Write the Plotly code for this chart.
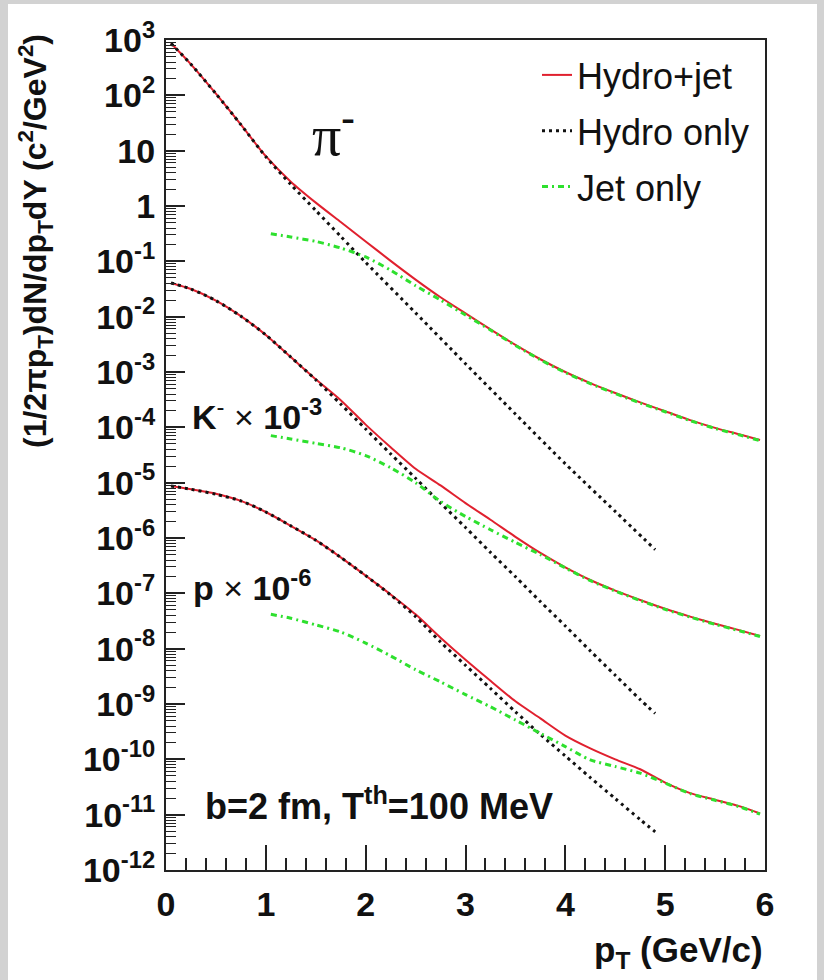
import plotly.graph_objects as go

# ---------------- data ----------------
pt_full = [0.05, 0.25, 0.5, 0.75, 1.0, 1.25, 1.5, 1.75, 2.0, 2.25, 2.5, 2.75, 3.0,
           3.25, 3.5, 3.75, 4.0, 4.25, 4.5, 4.75, 5.0, 5.25, 5.5, 5.75, 5.95]
pt_hydro_pi = [0.05, 0.25, 0.5, 0.75, 1.0, 1.25, 1.5, 1.75, 2.0, 2.5, 3.0, 3.5, 4.0, 4.5, 4.9]
pt_hydro = [0.05, 0.25, 0.5, 0.75, 1.0, 1.25, 1.5, 1.75, 2.0, 2.25, 2.5, 2.75, 3.0,
            3.25, 3.5, 3.75, 4.0, 4.25, 4.5, 4.75, 4.9]
pt_jet = [1.05, 1.25, 1.5, 1.75, 2.0, 2.25, 2.5, 2.75, 3.0, 3.25, 3.5, 3.75, 4.0,
          4.25, 4.5, 4.75, 5.0, 5.25, 5.5, 5.75, 5.95]

pi_total = [871, 363, 107, 29.5, 7.94, 2.75, 1.15, 0.513, 0.229, 0.102, 0.0468, 0.0224,
            0.0115, 5.89e-3, 3.09e-3, 1.70e-3, 1.00e-3, 6.31e-4, 4.17e-4, 2.82e-4,
            1.95e-4, 1.35e-4, 9.77e-5, 7.41e-5, 5.89e-5]
pi_hydro = [871, 363, 107, 29.5, 7.76, 2.45, 0.832, 0.282, 0.0955, 0.0117, 1.41e-3,
            1.74e-4, 2.19e-5, 3.02e-6, 6.17e-7]
pi_jet = [0.316, 0.275, 0.229, 0.174, 0.120, 0.0692, 0.0363, 0.0200, 0.0107, 5.75e-3,
          3.02e-3, 1.66e-3, 9.77e-4, 6.17e-4, 4.07e-4, 2.75e-4, 1.91e-4, 1.32e-4,
          9.55e-5, 7.24e-5, 5.75e-5]

k_total = [0.0407, 0.0316, 0.0195, 0.0102, 4.68e-3, 1.86e-3, 7.41e-4, 3.09e-4, 1.12e-4,
           4.37e-5, 1.78e-5, 8.91e-6, 4.27e-6, 2.14e-6, 1.05e-6, 5.37e-7, 2.95e-7,
           1.74e-7, 1.12e-7, 7.59e-8, 5.25e-8, 3.80e-8, 2.82e-8, 2.14e-8, 1.70e-8]
k_hydro = [0.0407, 0.0316, 0.0195, 0.0102, 4.68e-3, 1.86e-3, 7.24e-4, 2.63e-4, 9.33e-5,
           3.31e-5, 1.20e-5, 4.27e-6, 1.55e-6, 5.50e-7, 2.00e-7, 7.08e-8, 2.57e-8,
           9.12e-9, 3.31e-9, 1.20e-9, 6.76e-10]
k_jet = [7.08e-5, 6.17e-5, 5.13e-5, 4.27e-5, 3.09e-5, 1.86e-5, 1.00e-5, 4.57e-6, 2.45e-6,
         1.41e-6, 8.32e-7, 5.01e-7, 2.88e-7, 1.70e-7, 1.10e-7, 7.41e-8, 5.13e-8, 3.72e-8,
         2.75e-8, 2.09e-8, 1.66e-8]

p_total = [8.71e-6, 7.59e-6, 6.31e-6, 4.68e-6, 2.95e-6, 1.66e-6, 9.12e-7, 4.47e-7,
           2.09e-7, 9.55e-8, 4.17e-8, 1.58e-8, 6.31e-9, 2.63e-9, 1.12e-9, 5.50e-10,
           2.69e-10, 1.58e-10, 1.00e-10, 6.61e-11, 3.80e-11, 2.45e-11, 1.86e-11,
           1.41e-11, 1.05e-11]
p_hydro = [8.71e-6, 7.59e-6, 6.17e-6, 4.68e-6, 2.95e-6, 1.66e-6, 9.12e-7, 4.47e-7,
           2.09e-7, 9.33e-8, 3.80e-8, 1.32e-8, 5.01e-9, 1.91e-9, 7.24e-10, 2.82e-10,
           1.15e-10, 4.68e-11, 1.95e-11, 8.13e-12, 4.90e-12]
p_jet = [4.17e-8, 3.55e-8, 2.69e-8, 2.00e-8, 1.26e-8, 7.41e-9, 4.17e-9, 2.51e-9, 1.48e-9,
         8.91e-10, 5.13e-10, 2.95e-10, 1.70e-10, 9.77e-11, 7.41e-11, 5.62e-11, 3.72e-11,
         2.40e-11, 1.82e-11, 1.38e-11, 1.02e-11]

x_ticks = [0, 1, 2, 3, 4, 5, 6]
y_tick_vals = [1e3, 1e2, 1e1, 1, 1e-1, 1e-2, 1e-3, 1e-4, 1e-5, 1e-6, 1e-7, 1e-8,
               1e-9, 1e-10, 1e-11, 1e-12]
y_tick_text = ["10<sup>3</sup>", "10<sup>2</sup>", "10", "1", "10<sup>-1</sup>",
               "10<sup>-2</sup>", "10<sup>-3</sup>", "10<sup>-4</sup>", "10<sup>-5</sup>",
               "10<sup>-6</sup>", "10<sup>-7</sup>", "10<sup>-8</sup>", "10<sup>-9</sup>",
               "10<sup>-10</sup>", "10<sup>-11</sup>", "10<sup>-12</sup>"]

# ---------------- styles ----------------
RED = "#e0202e"
BLACK = "#111111"
GREEN = "#2ee02e"
FONT = "Liberation Sans, Arial, sans-serif"

red_line = dict(color=RED, width=2, shape="spline", smoothing=0.7)
black_line = dict(color=BLACK, width=3, dash="3px,4px", shape="spline", smoothing=0.7)
green_line = dict(color=GREEN, width=3, dash="6px,4px,2px,4px", shape="spline", smoothing=0.7)

fig = go.Figure()

series = [
    ("Hydro+jet", pt_full, [pi_total, k_total, p_total], red_line, 1),
    ("Hydro only", None, [pi_hydro, k_hydro, p_hydro], black_line, 2),
    ("Jet only", pt_jet, [pi_jet, k_jet, p_jet], green_line, 3),
]
for name, xs, ys_list, line, rank in series:
    for i, ys in enumerate(ys_list):
        if name == "Hydro only":
            x = pt_hydro_pi if i == 0 else pt_hydro
        else:
            x = xs
        fig.add_trace(go.Scatter(
            x=x, y=ys, mode="lines", line=line, name=name,
            showlegend=(i == 0), legendgroup=name, legendrank=rank,
            hoverinfo="skip"))

L, R, T, B = 166, 59, 40, 110
W, H = 824, 980
PW, PH = W - L - R, H - T - B


def px(xp):
    return (xp - L) / PW


def py(yp):
    return (H - B - yp) / PH


fig.update_layout(
    width=W, height=H, autosize=False,
    margin=dict(l=L, r=R, t=T, b=B),
    paper_bgcolor="#d2d2d2",
    plot_bgcolor="white",
    font=dict(family=FONT, color="#111111"),
    legend=dict(
        x=px(537), y=py(45), xanchor="left", yanchor="top",
        bgcolor="rgba(0,0,0,0)", borderwidth=0,
        font=dict(size=36, family=FONT, color="#111111"),
        tracegroupgap=6,
    ),
    shapes=[
        dict(type="rect", xref="paper", yref="paper", layer="below",
             x0=px(8), x1=px(817), y0=py(980), y1=py(4),
             fillcolor="white", line=dict(width=0)),
    ],
)

fig.update_xaxes(
    range=[0, 6], showgrid=False, zeroline=False,
    showline=True, linecolor="#222222", linewidth=2, mirror=True,
    ticks="inside", ticklen=25, tickwidth=1.5, tickcolor="#222222",
    tickvals=x_ticks, ticktext=[str(v) for v in x_ticks],
    tickfont=dict(size=34, family=FONT, weight="bold", color="#111111"),
    ticklabelstandoff=3,
    minor=dict(ticks="inside", ticklen=12, tickwidth=1.5, tickcolor="#222222",
               dtick=0.2, tick0=0, showgrid=False),
)

minor_y = [m * 10.0 ** e for e in range(-12, 3) for m in range(2, 10)]
fig.update_yaxes(
    type="log", range=[-12, 3], showgrid=False, zeroline=False,
    showline=True, linecolor="#222222", linewidth=2, mirror=True,
    ticks="inside", ticklen=19, tickwidth=1.5, tickcolor="#222222",
    tickvals=y_tick_vals, ticktext=y_tick_text,
    tickfont=dict(size=34, family=FONT, weight="bold", color="#111111"),
    ticklabelstandoff=2,
    minor=dict(ticks="inside", ticklen=10, tickwidth=1.2, tickcolor="#222222",
               tickvals=minor_y, showgrid=False),
)

ann = [
    dict(text="π<sup><b>-</b></sup>", x=px(310), y=py(131), xanchor="left", yanchor="middle",
         font=dict(size=58, family="Liberation Serif, DejaVu Serif, serif", color="#111111")),
    dict(text="<b>K</b><sup>-</sup> × <b>10</b><sup><b>-3</b></sup>", x=px(190), y=py(414),
         xanchor="left", yanchor="middle",
         font=dict(size=34, family=FONT, color="#111111")),
    dict(text="<b>p</b> × <b>10</b><sup><b>-6</b></sup>", x=px(191), y=py(585),
         xanchor="left", yanchor="middle",
         font=dict(size=34, family=FONT, color="#111111")),
    dict(text="<b>b=2 fm, T<sup>th</sup>=100 MeV</b>", x=px(203), y=py(804),
         xanchor="left", yanchor="middle",
         font=dict(size=36, family=FONT, color="#111111")),
    dict(text="<b>(1/2πp<sub>T</sub>)dN/dp<sub>T</sub>dY (c<sup>2</sup>/GeV<sup>2</sup>)</b>",
         x=px(35), y=py(241), xanchor="center", yanchor="middle", textangle=-90,
         font=dict(size=32, family=FONT, color="#111111")),
    dict(text="<b>p<sub>T</sub> (GeV/c)</b>", x=px(765), y=py(952),
         xanchor="right", yanchor="middle",
         font=dict(size=35, family=FONT, color="#111111")),
]
for a in ann:
    a.update(xref="paper", yref="paper", showarrow=False)
fig.update_layout(annotations=ann)

fig.write_html("out.html")
